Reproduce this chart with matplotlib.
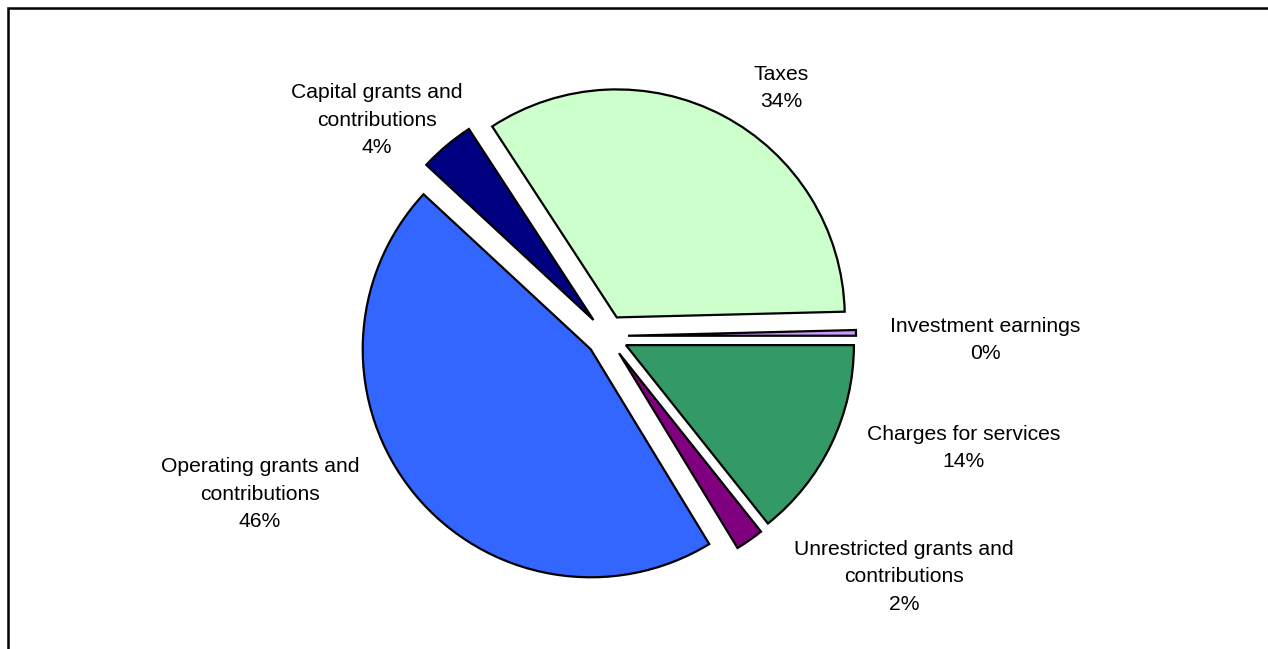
import matplotlib
matplotlib.use("Agg")
import matplotlib.pyplot as plt
from matplotlib.patches import Rectangle

categories = ["Charges for services", "Unrestricted grants and\ncontributions",
              "Operating grants and\ncontributions", "Capital grants and\ncontributions",
              "Taxes", "Investment earnings"]
values = [14.3, 2.0, 45.6, 3.9, 33.8, 0.4]
colors = ["#339966", "#800080", "#3366FF", "#000080", "#CCFFCC", "#CC99FF"]

W, H = 1268, 649
fig = plt.figure(figsize=(W / 100, H / 100), dpi=100)
ax = fig.add_axes([0, 0, 1, 1])

cx, cy, r = 607, H - 336, 228
explode = [21] * len(values)  # pixel offset (data units)
ax.pie(values, colors=colors, explode=explode, startangle=0, counterclock=False,
       center=(cx, cy), radius=r, frame=True,
       wedgeprops=dict(edgecolor="black", linewidth=1.6, joinstyle="miter"))
ax.set_xlim(0, W)
ax.set_ylim(0, H)
ax.set_aspect("equal")
ax.axis("off")

# label positions (pixel centers from top-left)
label_pos = [(964, 448), (904, 577), (260, 494), (377, 120), (781, 88), (985, 340)]
total = sum(values)
for name, v, (x, y) in zip(categories, values, label_pos):
    pct = round(v / total * 100)
    ax.text(x, H - y, f"{name}\n{pct}%", ha="center", va="center",
            fontsize=15.2, family=["Liberation Sans", "DejaVu Sans"],
            linespacing=1.56, color="black")

# outer frame (extends past right/bottom edges)
fig.patches.append(Rectangle((7.5 / W, -0.1), 1.2, 1 - 7.5 / H + 0.1,
                             transform=fig.transFigure, fill=False,
                             edgecolor="black", linewidth=1.8))

fig.savefig("out.png", dpi=100, facecolor="white")
